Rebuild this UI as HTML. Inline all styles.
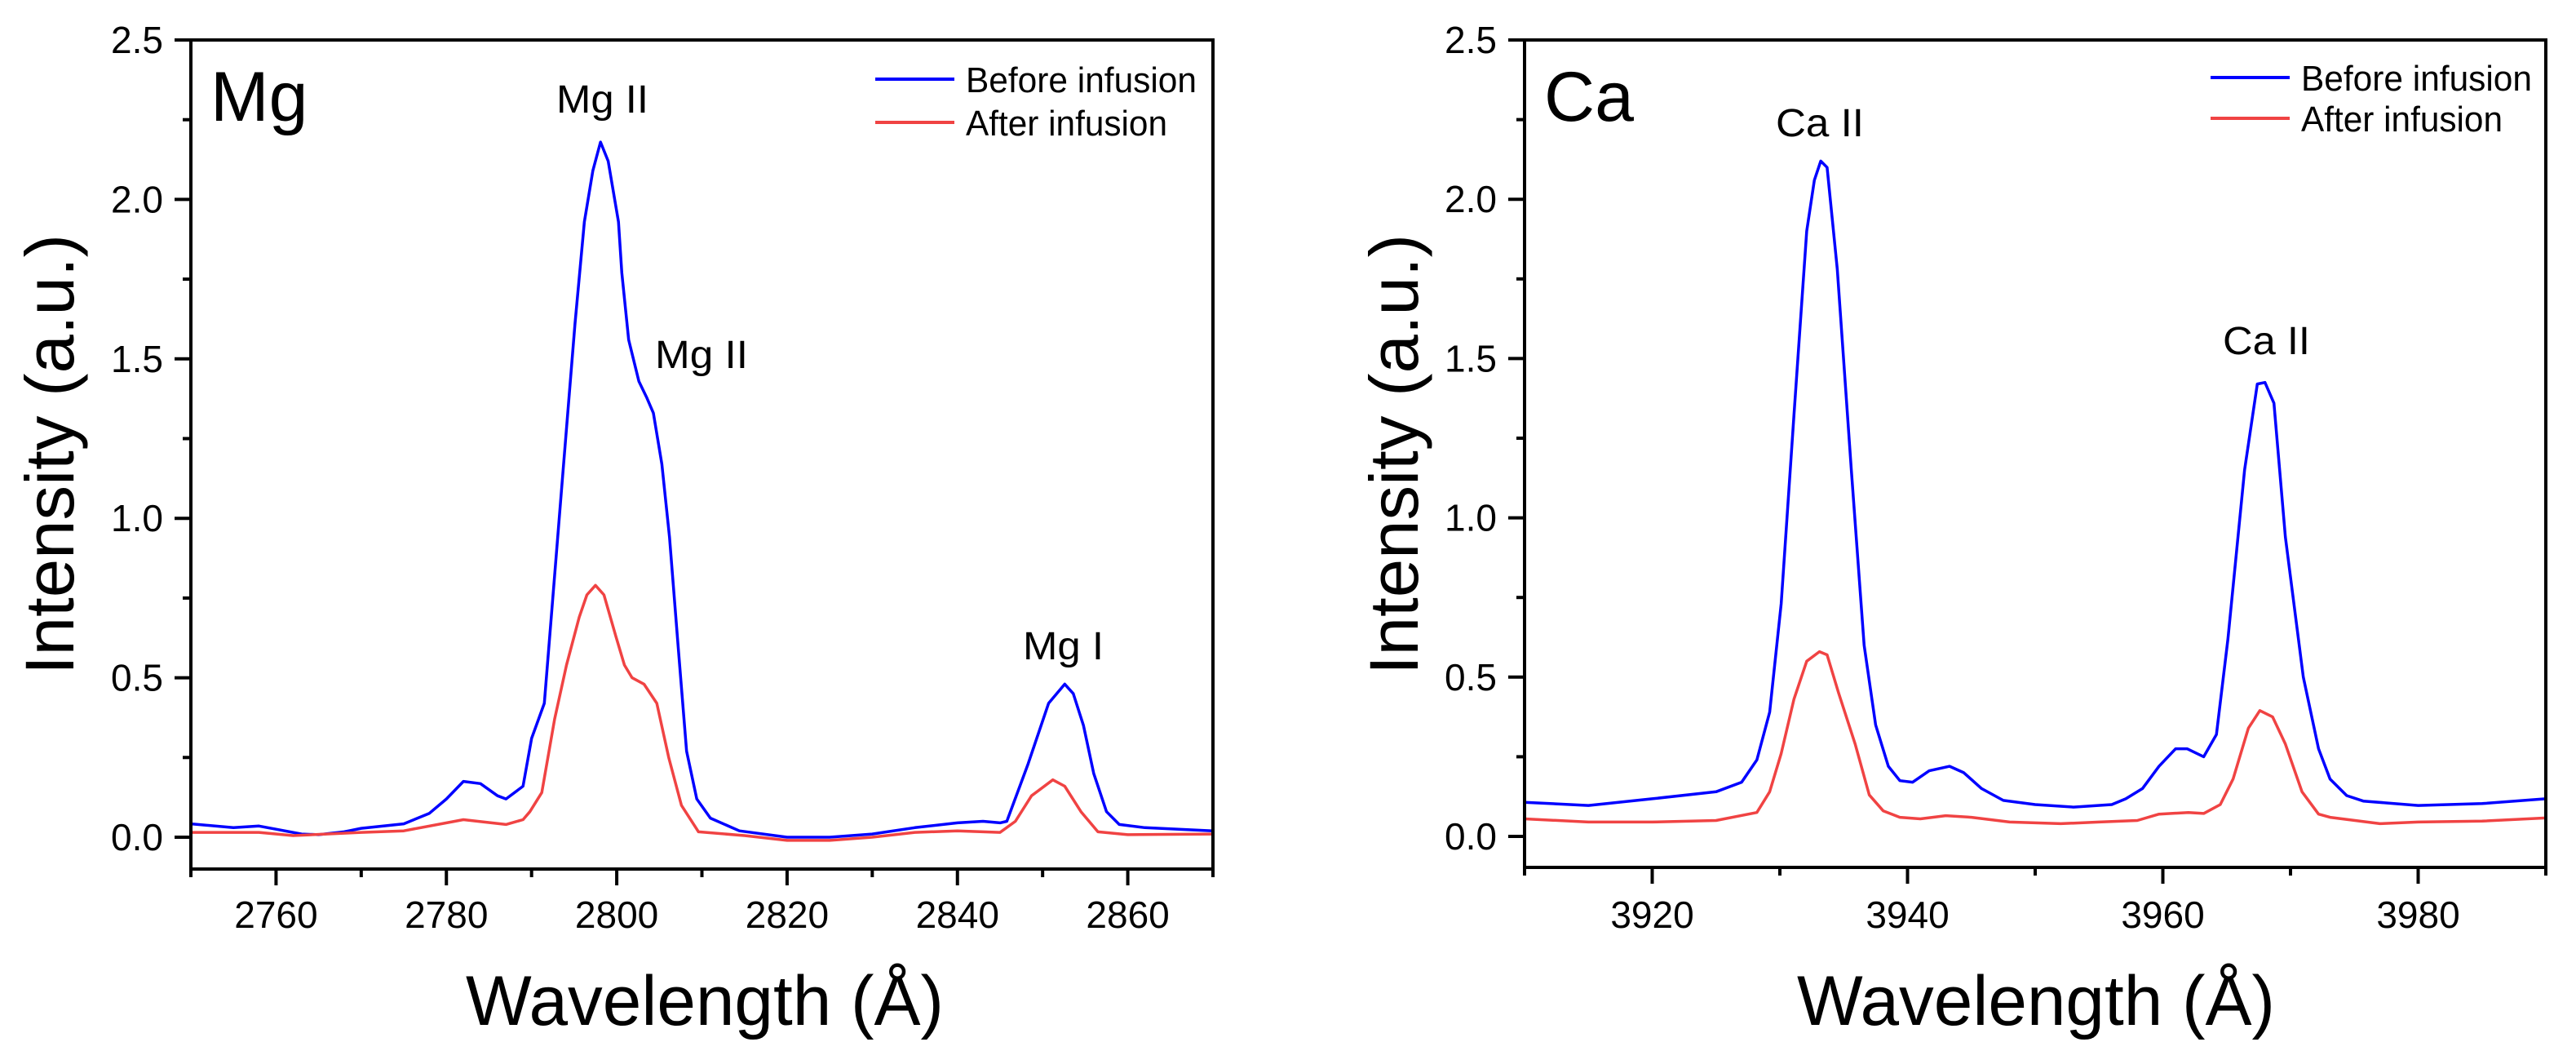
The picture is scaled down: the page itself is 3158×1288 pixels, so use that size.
<!DOCTYPE html>
<html><head><meta charset="utf-8"><style>
html,body{margin:0;padding:0;background:#fff}
svg{display:block}
text{font-family:"Liberation Sans",Arial,sans-serif;fill:#000}
</style></head><body>
<svg id="fig" width="3158" height="1288" viewBox="0 0 3158 1288" xmlns="http://www.w3.org/2000/svg">
<g id="p1"></g>
<g id="p2"></g>
</svg>
<script>
const mgX=[2750,2755,2758,2760,2763,2765,2768,2770,2775,2778,2780,2782,2784,2786,2787,2789,2790,2791.5,2793.7,2795.1,2796.2,2797.2,2798.1,2799,2800.2,2800.6,2801.4,2802.6,2803.5,2804.3,2805.3,2806.2,2807.2,2808.2,2809.4,2811,2814.4,2820,2825,2830,2835,2840,2843,2845,2845.8,2848.3,2850.7,2852.6,2853.6,2854.8,2856,2857.5,2859,2862,2870];
const mgBefore=[0.042,0.03,0.035,0.025,0.01,0.008,0.017,0.028,0.042,0.075,0.12,0.175,0.168,0.13,0.12,0.16,0.31,0.42,1.15,1.61,1.93,2.09,2.18,2.12,1.93,1.77,1.56,1.43,1.38,1.33,1.17,0.94,0.60,0.27,0.12,0.06,0.02,0,0,0.01,0.03,0.045,0.05,0.045,0.05,0.23,0.42,0.48,0.45,0.35,0.2,0.08,0.04,0.03,0.02];
const mgX2=[2750,2758,2762,2770,2775,2782,2787,2789,2789.8,2791.2,2792.7,2794.1,2795.6,2796.5,2797.5,2798.5,2799.9,2800.9,2801.8,2803.2,2804.7,2806.1,2807.6,2809.6,2815,2820,2825,2830,2835,2840,2845,2846.8,2848.7,2851.2,2852.6,2854.5,2856.5,2860,2870];
const mgAfter=[0.015,0.015,0.005,0.015,0.02,0.055,0.04,0.055,0.08,0.14,0.37,0.54,0.69,0.76,0.79,0.76,0.63,0.54,0.5,0.48,0.42,0.25,0.1,0.017,0.005,-0.01,-0.01,0,0.015,0.02,0.015,0.05,0.13,0.18,0.16,0.08,0.017,0.008,0.01];
const caX=[3910,3915,3920,3925,3927,3928.2,3929.2,3930.1,3931.1,3932.1,3932.7,3933.2,3933.7,3934.5,3935.6,3936.6,3937.5,3938.5,3939.4,3940.4,3941.7,3943.3,3944.4,3945.8,3947.5,3950,3953,3956,3957.1,3958.4,3959.7,3961,3961.9,3963.2,3964.2,3965.1,3966.4,3967.4,3968,3968.7,3969.6,3971,3972.2,3973.1,3974.4,3975.7,3980,3985,3990];
const caBefore=[0.107,0.097,0.118,0.14,0.17,0.24,0.39,0.73,1.32,1.9,2.06,2.12,2.10,1.78,1.15,0.6,0.35,0.22,0.175,0.17,0.206,0.22,0.2,0.15,0.113,0.1,0.092,0.1,0.118,0.15,0.22,0.275,0.275,0.25,0.32,0.62,1.15,1.42,1.425,1.36,0.94,0.5,0.275,0.18,0.128,0.111,0.097,0.103,0.118];
const caX2=[3910,3915,3920,3925,3928.2,3929.2,3930.1,3931.1,3932.1,3933.1,3933.7,3934.6,3935.9,3937,3938.1,3939.4,3941,3943,3945,3948,3952,3955,3958,3959.7,3962,3963.2,3964.5,3965.5,3966.7,3967.6,3968.6,3969.6,3970.9,3972.2,3973.1,3977,3980,3985,3990];
const caAfter=[0.055,0.045,0.045,0.05,0.075,0.14,0.26,0.43,0.55,0.58,0.57,0.45,0.29,0.13,0.08,0.06,0.055,0.065,0.06,0.045,0.04,0.045,0.05,0.07,0.075,0.072,0.1,0.18,0.34,0.395,0.375,0.29,0.14,0.07,0.06,0.04,0.045,0.048,0.058];
const yTicks=["0.0","0.5","1.0","1.5","2.0","2.5"];
const mgXTicks=[2760,2780,2800,2820,2840,2860];
const caXTicks=[3920,3940,3960,3980];

const NS="http://www.w3.org/2000/svg";
function mk(parent,tag,attrs,txt){const e=document.createElementNS(NS,tag);for(const k in attrs)e.setAttribute(k,attrs[k]);if(txt!==undefined)e.textContent=txt;parent.appendChild(e);return e;}

function panel(g,cfg){
  const sx=v=>cfg.L+(v-cfg.x0)/(cfg.x1-cfg.x0)*(cfg.R-cfg.L);
  const sy=v=>cfg.Y0-v*(cfg.Y0-cfg.T)/2.5;
  const clipId=cfg.id+"clip";
  const cp=mk(g,"clipPath",{id:clipId});
  mk(cp,"rect",{x:cfg.L,y:cfg.T,width:cfg.R-cfg.L,height:cfg.B-cfg.T});
  const series=[[cfg.xb,cfg.yb,"#0000ff","before-infusion-line"],[cfg.xa,cfg.ya,"#f04343","after-infusion-line"]];
  series.forEach(s=>{
    const d=s[0].map((x,i)=>(i?"L":"M")+sx(x).toFixed(1)+","+sy(s[1][i]).toFixed(1)).join("");
    const p=mk(g,"path",{d:d,fill:"none",stroke:s[2],"stroke-width":3.5,"stroke-linejoin":"round","clip-path":"url(#"+clipId+")"});
    
    
  });
  const fr=mk(g,"rect",{x:cfg.L,y:cfg.T,width:cfg.R-cfg.L,height:cfg.B-cfg.T,fill:"none",stroke:"#000","stroke-width":4});
  
  
  // y ticks
  for(let v=-0.0;v<=2.5001;v+=0.25){
    const major=Math.abs(v*2-Math.round(v*2))<1e-6;
    mk(g,"line",{x1:cfg.L-(major?20:10),x2:cfg.L,y1:sy(v),y2:sy(v),stroke:"#000","stroke-width":4});
  }
  yTicks.forEach(t=>{
    const e=mk(g,"text",{x:cfg.L-34,y:sy(parseFloat(t))+16,"font-size":46,"text-anchor":"end"},t);
    
    
  });
  // x ticks
  for(let v=cfg.x0;v<=cfg.x1+1e-6;v+=10){
    const major=cfg.xt.indexOf(v)>=0;
    mk(g,"line",{x1:sx(v),x2:sx(v),y1:cfg.B,y2:cfg.B+(major?20:10),stroke:"#000","stroke-width":4});
  }
  cfg.xt.forEach(t=>{
    const e=mk(g,"text",{x:sx(t),y:1137,"font-size":46,"text-anchor":"middle"},t);
    
    
  });
  const xt=mk(g,"text",{x:cfg.xtc,y:1256,"font-size":86,"text-anchor":"middle",textLength:586,lengthAdjust:"spacingAndGlyphs"},"Wavelength (Å)");
  
  
  const yt=mk(g,"text",{x:0,y:0,"font-size":84,"text-anchor":"middle",textLength:540,lengthAdjust:"spacingAndGlyphs",transform:"translate("+cfg.ytx+",557) rotate(-90)"},"Intensity (a.u.)");
  
  
  const pl=mk(g,"text",{x:cfg.L+24,y:148,"font-size":86},cfg.label);
  
  
  cfg.ann.forEach(a=>{
    const e=mk(g,"text",{x:a[1],y:a[2],"font-size":48,textLength:a[3],lengthAdjust:"spacingAndGlyphs"},a[0]);
    
    
  });
  const lg=mk(g,"g",{});
  
  
  [["Before infusion","#0000ff",0,283],["After infusion","#f04343",1,247]].forEach(l=>{
    const ly=cfg.legY[l[2]];
    const ln=mk(lg,"line",{x1:cfg.legX,x2:cfg.legX+97,y1:ly,y2:ly,stroke:l[1],"stroke-width":4});
    
    
    const tx=mk(lg,"text",{x:cfg.legX+111,y:ly+16,"font-size":44,textLength:l[3],lengthAdjust:"spacingAndGlyphs"},l[0]);
    
    
  });
}
panel(document.getElementById("p1"),{id:"a",L:234,R:1487,T:49,B:1065,Y0:1026,x0:2750,x1:2870,xb:mgX,yb:mgBefore,xa:mgX2,ya:mgAfter,xt:mgXTicks,xtc:864,ytx:90,label:"Mg",
  ann:[["Mg II",682,138,113],["Mg II",803,451,114],["Mg I",1254,808,99]],legX:1073,legY:[97,150]});
panel(document.getElementById("p2"),{id:"b",L:1869,R:3121,T:49,B:1063,Y0:1025,x0:3910,x1:3990,xb:caX,yb:caBefore,xa:caX2,ya:caAfter,xt:caXTicks,xtc:2496,ytx:1738,label:"Ca",
  ann:[["Ca II",2177,167,108],["Ca II",2725,434,107]],legX:2710,legY:[95,145]});
</script>
</body></html>
